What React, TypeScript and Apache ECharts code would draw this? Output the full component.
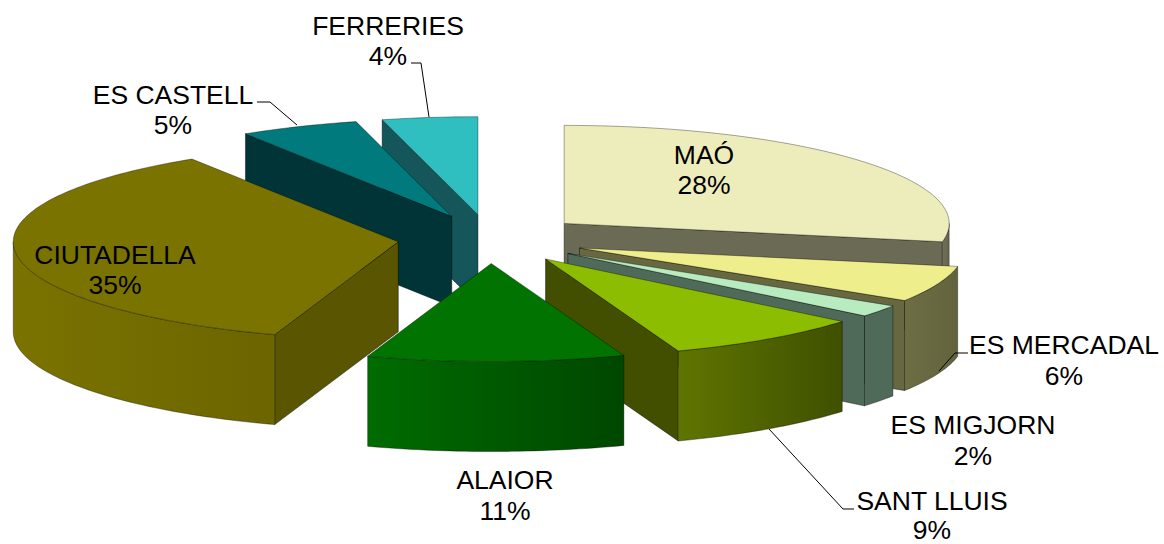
import React, { useEffect, useRef } from "react";
import * as echarts from "echarts";

// ---- data ----
const categories = ["MAÓ", "ES MERCADAL", "ES MIGJORN", "SANT LLUIS", "ALAIOR", "CIUTADELLA", "ES CASTELL", "FERRERIES"];
const shares = [28, 6, 2, 8.4, 10.8, 35.8, 5, 4];
const percentLabels = ["28%", "6%", "2%", "9%", "11%", "35%", "5%", "4%"];

// ---- styles, same order as categories ----
const topColors = ["#EDEDBC", "#EEEE8C", "#B8ECC0", "#8CBD00", "#007300", "#7A7300", "#007A7C", "#30BFC0"];
const cutColors = ["#6A6A55", "#676741", "#4F6A58", "#424F00", "#004F00", "#5A5500", "#003437", "#14565A"];
const wallFrom = ["#6F6F5A", "#6E6E45", "#4F6A58", "#5F7500", "#006C00", "#7A7300", "#003437", "#14565A"];
const wallTo = ["#66664F", "#62623C", "#4F6A58", "#3F5000", "#004700", "#6C6500", "#003437", "#14565A"];
const explode = [0.25, 0.25, 0.25, 0.25, 0.25, 0.24, 0.25, 0.25];

// ---- layout of the tilted pie ----
const CX = 490, CY = 239, RX = 385, RY = 98, DEPTH = 90;

// ---- labels and leader lines ----
const FONT = "Liberation Sans";
const FONT_SIZE = 26.5;
const labelX = [704, 1064, 973, 932, 505, 115, 173, 388];
const nameY = [155, 345, 425, 501, 480, 255, 95, 26];
const pctY = [185, 376, 456, 530, 511, 285, 125, 56];
const leaders: number[][][] = [
  [[411, 63], [421, 63], [429, 117]],
  [[257, 102], [270, 102], [297, 125]],
  [[968, 353], [955, 353], [939, 371]],
  [[854, 509], [843, 509], [769, 429]],
];

const total = shares.reduce((a, b) => a + b, 0);
const rad = (share: number) => (share / total) * Math.PI * 2;

type Row = { index: number; start: number; end: number; mid: number };
let running = 0;
const rows: Row[] = shares.map((s, index) => {
  const start = rad(running);
  running += s;
  const end = rad(running);
  return { index, start, end, mid: (start + end) / 2 };
});
// painter's order: back of the pie first
const paintOrder = [...rows].sort((a, b) => Math.cos(b.mid) - Math.cos(a.mid));

function renderSlice(params: any, api: any) {
  const row = paintOrder[params.dataIndex];
  const { index, start, end, mid } = row;
  const ax = CX + explode[index] * RX * Math.sin(mid);
  const ay = CY - explode[index] * RY * Math.cos(mid);
  const rim = (t: number, drop = 0): number[] => [ax + RX * Math.sin(t), ay - RY * Math.cos(t) + drop];
  const arc = (a: number, b: number, drop = 0) => {
    const n = Math.max(2, Math.ceil(Math.abs(b - a) / 0.02));
    const pts: number[][] = [];
    for (let i = 0; i <= n; i++) pts.push(rim(a + ((b - a) * i) / n, drop));
    return pts;
  };
  const children: any[] = [];
  const quad = (t: number) => ({
    type: "polygon",
    shape: { points: [[ax, ay], rim(t), rim(t, DEPTH), [ax, ay + DEPTH]] },
    style: { fill: cutColors[index], stroke: "rgba(0,0,0,0.45)", lineWidth: 1 },
  });
  if (Math.sin(start) < -1e-6) children.push(quad(start));
  if (Math.sin(end) > 1e-6) children.push(quad(end));
  const f0 = Math.max(start, Math.PI / 2);
  const f1 = Math.min(end, (Math.PI * 3) / 2);
  if (f1 > f0) {
    const upper = arc(f0, f1);
    const lower = arc(f1, f0, DEPTH);
    children.push({
      type: "polygon",
      shape: { points: [...upper, ...lower] },
      style: {
        fill: new echarts.graphic.LinearGradient(0, 0, 1, 0, [
          { offset: 0, color: wallFrom[index] },
          { offset: 1, color: wallTo[index] },
        ]),
        stroke: "rgba(0,0,0,0.35)",
        lineWidth: 1,
      },
    });
  }
  children.push({
    type: "polygon",
    shape: { points: [[ax, ay], ...arc(start, end)] },
    style: { fill: topColors[index], stroke: "rgba(0,0,0,0.35)", lineWidth: 1 },
  });
  return { type: "group", children };
}

export default function App() {
  const ref = useRef<HTMLDivElement>(null);
  useEffect(() => {
    document.body.style.margin = "0";
    const chart = echarts.init(ref.current!, undefined, { renderer: "svg" });
    const graphic: any[] = [];
    leaders.forEach((pts) =>
      graphic.push({
        type: "polyline",
        z: 20,
        shape: { points: pts },
        style: { stroke: "#000", lineWidth: 1, fill: "none" },
      })
    );
    const addText = (text: string, x: number, y: number) =>
      graphic.push({
        type: "text",
        z: 30,
        x,
        y,
        style: {
          text,
          fill: "#000",
          font: `${FONT_SIZE}px "${FONT}"`,
          align: "center",
          verticalAlign: "middle",
        },
      });
    categories.forEach((name, i) => {
      addText(name, labelX[i], nameY[i]);
      addText(percentLabels[i], labelX[i], pctY[i]);
    });
    chart.setOption({
      animation: false,
      backgroundColor: "#fff",
      graphic,
      series: [
        {
          type: "custom",
          coordinateSystem: "none",
          silent: true,
          renderItem: renderSlice,
          data: paintOrder.map((r) => ({ name: categories[r.index], value: shares[r.index] })),
        },
      ],
    });
    return () => chart.dispose();
  }, []);
  return <div ref={ref} style={{ position: "fixed", left: 0, top: 0, width: 1164, height: 544 }} />;
}
